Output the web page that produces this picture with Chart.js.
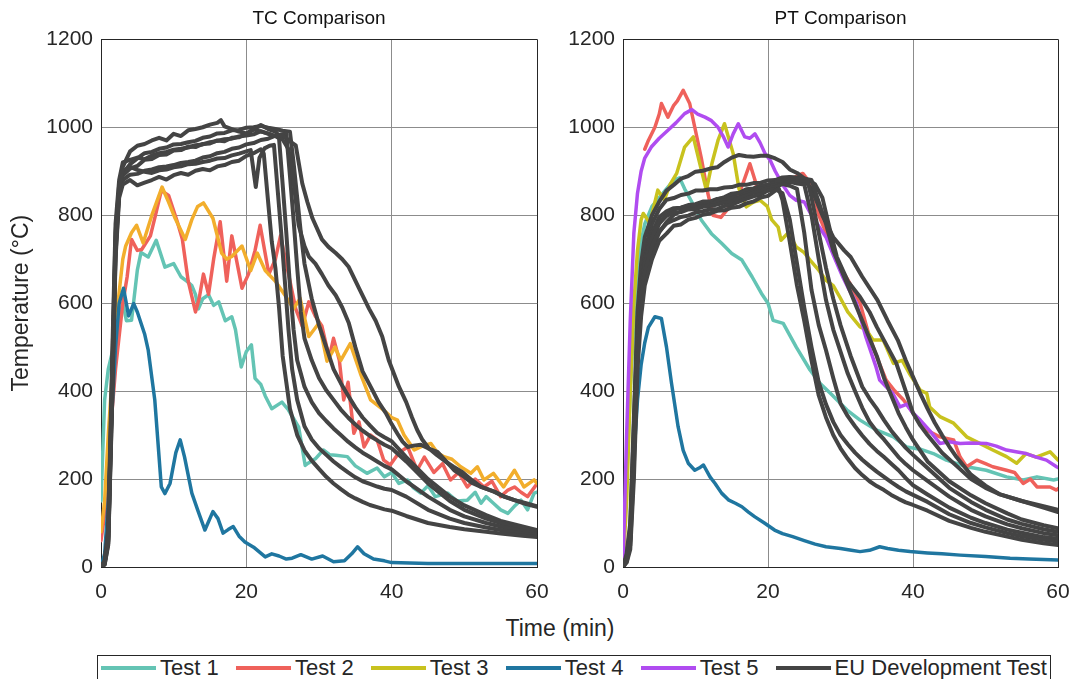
<!DOCTYPE html>
<html>
<head>
<meta charset="utf-8">
<script src="https://cdn.jsdelivr.net/npm/chart.js@4.4.0/dist/chart.umd.min.js"></script>
<style>
body{margin:0;background:#fff;width:1074px;height:679px;overflow:hidden;position:relative;font-family:"Liberation Sans",Arial,sans-serif;}
#c1{position:absolute;left:0;top:0;}
#c2{position:absolute;left:552px;top:0;}
#xlab{position:absolute;left:460px;width:200px;top:615px;text-align:center;font-size:23px;color:#262626;}
#legend{position:absolute;left:97px;top:655px;width:954px;height:26px;border:1.5px solid #262626;box-sizing:border-box;display:flex;justify-content:space-between;align-items:center;padding:0 3px;}
.item{display:flex;align-items:center;font-size:22px;color:#262626;white-space:nowrap;}
.swatch{display:inline-block;width:55px;height:4px;margin-right:4px;}
</style>
</head>
<body>
<canvas id="c1" width="552" height="610"></canvas>
<canvas id="c2" width="522" height="610"></canvas>
<div id="xlab">Time (min)</div>
<div id="legend"></div>
<script>
// time (min), temperature (C)
var tcTest1=[[0,150],[0.5,380],[1,450],[2,520],[3,600],[3.5,560],[4.2,561],[5,675],[5.5,715],[6.5,705],[7.6,743],[8.8,682],[10,690],[11,660],[11.8,650],[12.5,640],[13,620],[13.4,587],[14,610],[14.8,619],[15.5,595],[16.2,603],[17.1,560],[18,569],[18.5,540],[19.3,455],[20,490],[20.7,505],[21.2,429],[22,415],[22.6,389],[23.5,360],[24.9,375],[25.8,357],[27.2,318],[28.1,231],[28.5,236],[29.5,246],[30.6,266],[31.5,255],[32.3,254],[33.9,251],[35,230],[36.6,213],[38,225],[39,205],[40,215],[41,190],[42.2,198],[43,180],[44,168],[45,185],[46,160],[47.7,168],[49,150],[50.4,152],[51.5,170],[52.3,145],[53,160],[54,145],[55,130],[56,122],[57,140],[57.8,152],[58.7,130],[59.6,168],[60,170]];
var tcTest2=[[0,60],[0.5,120],[1,250],[2,450],[3,600],[3.6,660],[4.2,745],[5,720],[5.6,722],[6.8,753],[7.5,800],[8.3,856],[9.3,845],[10.5,785],[11.2,745],[12,650],[13,580],[13.5,610],[14.1,666],[14.8,620],[15.5,700],[16.4,785],[17.3,650],[18,753],[19.4,634],[20.3,666],[21.2,720],[21.9,777],[23.1,666],[24,700],[24.7,753],[25.6,682],[26.8,587],[27.7,548],[28.6,603],[29.5,570],[30.4,548],[31.4,476],[32,520],[32.8,470],[33.4,380],[34,420],[34.8,304],[35.5,330],[36.2,273],[37.1,300],[38,289],[38.9,243],[39.8,232],[41,260],[42.2,273],[43.5,220],[44.5,250],[45.8,215],[47,235],[48.1,198],[49.2,215],[50.4,182],[51.5,200],[52.7,182],[53.8,195],[55,160],[56,175],[56.9,182],[57.8,170],[58.7,160],[60,189]];
var tcTest3=[[0,80],[0.5,150],[1,300],[2,550],[3,700],[3.4,730],[4.2,760],[4.9,777],[5.8,737],[7,800],[8.4,864],[9.3,830],[10.2,793],[11.6,745],[12.5,790],[13.3,820],[14.1,828],[15.4,793],[16.6,714],[17.3,700],[18,706],[19.4,730],[20.6,674],[21.5,714],[22.6,674],[24,650],[25.6,611],[26.5,587],[27.4,611],[28.6,524],[30,555],[31.1,468],[32.2,500],[33,470],[34.3,508],[35.7,440],[37.1,380],[38.9,357],[40,340],[40.8,334],[41.7,300],[43.1,266],[44.2,275],[45.4,281],[46.3,260],[47.2,251],[48.3,245],[49.5,228],[50.9,213],[51.8,228],[52.7,198],[54,213],[55.4,182],[56.9,220],[58.2,182],[59.6,198],[60,190]];
var tcTest4=[[0,0],[0.5,30],[1,150],[1.5,350],[2,500],[2.5,600],[3.1,634],[3.8,571],[4.5,599],[5,580],[6,530],[6.5,493],[7.4,380],[8.3,182],[8.8,167],[9.5,190],[10.3,260],[10.9,289],[11.5,250],[12.5,168],[13.3,130],[14.3,84],[15.4,126],[16.1,110],[16.8,77],[17.5,85],[18.2,92],[19,70],[19.8,57],[21,45],[22.6,23],[23.5,30],[24.5,25],[25.5,18],[26.3,20],[27.5,28],[29,18],[30.5,25],[32,12],[33.5,14],[34.5,30],[35.3,46],[36.2,30],[37.5,18],[39,14],[40,10],[45,8],[50,8],[60,8]];

var tcEU1=[[0,0],[0.5,10],[1,60],[1.5,380],[2,720],[2.5,860],[3,910],[4,945],[5,958],[6,962],[7,970],[8,976],[9,970],[10,985],[11,980],[12,993],[13,996],[14,1000],[15,1006],[16,1010],[16.5,1016],[17,1002],[18,996],[19,990],[20,986],[21,995],[22,990],[23,986],[24,980],[25,982],[26,968],[26.8,959],[27.7,872],[28.4,830],[29.1,793],[30.4,745],[31.3,728],[32.3,714],[33.2,700],[34.1,682],[35.5,634],[36.9,587],[37.8,560],[38.7,524],[39.6,470],[40.3,440],[41,410],[42,375],[42.8,340],[43.5,312],[44.2,290],[45.1,270],[46.2,255],[47.4,240],[48.5,228],[49.8,215],[51,198],[52.3,182],[54.3,170],[55.5,160],[56.9,152],[58.5,145],[60,138]];
var tcEU2=[[0,0],[0.5,15],[1,80],[1.5,420],[2,760],[2.5,870],[3,890],[4,906],[5,912],[6,926],[7,928],[8,937],[9,938],[10,947],[11,948],[12,956],[13,955],[14,962],[15,963],[16,970],[17,968],[18,976],[19,977],[20,986],[21,995],[22,1005],[23,996],[24,990],[25,972],[25.8,950],[26.3,905],[27.2,777],[28,730],[28.6,706],[29.5,690],[30.4,666],[31.3,640],[32.3,618],[33.2,590],[34.1,555],[35,500],[36,445],[37.3,404],[38.2,375],[39.2,350],[40,325],[40.8,303],[41.5,285],[42.2,273],[43,276],[44,278],[45,270],[46.3,262],[47.5,240],[48.6,220],[50,205],[51,192],[52.3,182],[54,172],[55.5,160],[56.9,152],[58.5,143],[60,137]];
var tcEU3=[[0,0],[0.5,5],[1,50],[1.5,350],[2,700],[2.5,840],[3,870],[4,880],[5,868],[6,874],[7,880],[8,887],[9,881],[10,891],[11,896],[12,892],[13,901],[14,905],[15,902],[16,911],[17,914],[18,921],[19,924],[20,935],[21,941],[22,950],[22.4,940],[23,830],[23.5,740],[24,680],[24.5,590],[25,480],[25.5,420],[26,360],[27,300],[28,265],[29,242],[30,223],[31,205],[32,190],[33,177],[34,165],[35,156],[36,148],[37,141],[38,136],[39,131],[40,128],[42,116],[45,100],[48,91],[50,86],[53,80],[55,76],[58,71],[60,68]];
var tcEU4=[[0,0],[0.5,8],[1,70],[1.5,400],[2,740],[2.5,860],[3,900],[4,910],[5,903],[6,899],[7,896],[8,902],[9,904],[10,909],[11,911],[12,916],[13,917],[14,921],[15,924],[16,929],[17,930],[18,936],[19,940],[20,945],[20.6,948],[21.3,864],[21.8,930],[22.5,952],[23.2,958],[23.8,960],[24.3,860],[24.8,760],[25.3,650],[25.8,540],[26.3,450],[27,380],[28,320],[29,290],[30,270],[31,255],[32,240],[33,227],[34,215],[35,204],[36,195],[37,189],[38,183],[39,178],[40,175],[42,160],[45,130],[48,110],[50,100],[53,90],[55,84],[58,76],[60,72]];
var tcEU5=[[0,0],[0.5,12],[1,90],[1.5,450],[2,780],[2.5,880],[3,920],[4,926],[5,931],[6,927],[7,936],[8,941],[9,944],[10,949],[11,951],[12,954],[13,959],[14,961],[15,966],[16,969],[17,973],[18,974],[19,979],[20,981],[21,984],[22,991],[23,985],[24,980],[24.5,975],[25,870],[25.5,760],[26,640],[26.5,540],[27,470],[28,410],[29,375],[30,350],[31,332],[32,315],[33,300],[34,285],[35,272],[36,260],[37,250],[38,240],[39,230],[40,222],[42,195],[45,160],[48,130],[50,115],[53,100],[55,92],[58,82],[60,76]];
var tcEU6=[[0,0],[0.5,6],[1,55],[1.5,360],[2,710],[2.5,850],[3,880],[4,892],[5,894],[6,901],[7,904],[8,909],[9,911],[10,914],[11,919],[12,921],[13,924],[14,931],[15,934],[16,941],[17,944],[18,951],[19,954],[20,961],[21,964],[22,971],[23,974],[24,981],[25,984],[25.5,985],[26,890],[26.5,790],[27,680],[27.5,580],[28,520],[29,470],[30,430],[31,402],[32,380],[33,358],[34,340],[35,324],[36,310],[37,298],[38,288],[39,278],[40,270],[42,240],[45,190],[48,150],[50,130],[53,110],[55,100],[58,87],[60,80]];
var tcEU7=[[0,0],[0.5,10],[1,65],[1.5,390],[2,730],[2.5,855],[3,895],[4,916],[5,929],[6,941],[7,944],[8,951],[9,954],[10,961],[11,962],[12,966],[13,969],[14,976],[15,979],[16,986],[17,987],[18,993],[19,994],[20,999],[21,1000],[22,1003],[23,999],[24,996],[25,992],[26,990],[26.5,920],[27,840],[27.5,760],[28,690],[29,610],[30,550],[31,500],[32,450],[33,418],[34,390],[35,363],[36,340],[37,322],[38,305],[39,295],[40,286],[42,250],[45,200],[48,160],[50,140],[53,118],[55,105],[58,92],[60,84]];

var ptTest1=[[0,60],[0.5,200],[1,400],[1.5,560],[2,660],[2.5,740],[3,780],[4,820],[5,840],[6,860],[7,880],[7.8,885],[8.5,860],[9.5,830],[10.8,789],[12.2,758],[13.6,736],[15,713],[16.4,698],[17.8,660],[19.1,622],[20,600],[20.7,561],[22.1,554],[23.9,500],[25.8,448],[27.2,417],[28.6,395],[30.9,357],[32.7,334],[35,311],[37.3,296],[39.1,273],[41,268],[42.8,258],[44.6,243],[47.4,228],[50.1,220],[52.9,205],[55.2,198],[57.1,205],[59.4,198],[60,200]];
var ptTest2=[[3,950],[3.5,970],[4.4,1000],[5,1030],[5.3,1054],[6.2,1023],[7,1050],[7.5,1060],[8.3,1084],[9.2,1054],[9.9,1000],[10.8,930],[11.7,850],[12.4,800],[13.5,795],[14.5,815],[15.5,830],[16.5,870],[17.5,917],[18.2,880],[18.7,850],[19.5,860],[20.5,870],[21.5,880],[22.5,875],[23.5,885],[24.8,895],[25.5,880],[26.2,857],[27,800],[28,760],[29.4,698],[31.3,645],[32.7,600],[34,523],[35.2,470],[36.3,425],[37.5,400],[38.7,380],[40,350],[41,327],[41.9,311],[43.7,296],[45.6,289],[46.5,250],[47.4,228],[48.8,243],[50,235],[51,228],[52.9,220],[54,215],[55.2,190],[56.2,200],[57.1,182],[58.9,182],[59.8,175],[60,178]];
var ptTest3=[[0,0],[0.5,150],[1,400],[1.5,600],[2,720],[2.5,790],[2.8,804],[3.7,782],[4.8,857],[5.7,835],[6.5,870],[7.4,895],[8.5,955],[9.7,978],[10.6,917],[11.5,857],[12.3,920],[13.1,970],[14,1008],[15.2,940],[16,860],[17,819],[18,830],[18.9,834],[19.9,820],[20.5,790],[21.4,773],[21.8,743],[22.8,760],[23.9,728],[25,715],[25.8,698],[27,675],[28,652],[29,640],[29.9,614],[31,580],[32.7,546],[33.5,540],[34.5,516],[35.9,516],[37.3,463],[38.5,470],[39.5,440],[41,402],[41.9,395],[42.3,364],[43.7,342],[45.6,327],[47.4,296],[49.2,281],[51,266],[52.9,251],[54.3,236],[55.6,258],[57,250],[58.9,262],[60,243]];
var ptTest4=[[0,0],[0.5,20],[1,80],[1.5,250],[2,380],[2.5,460],[3,510],[3.5,545],[4.4,569],[5.3,565],[6,500],[6.7,417],[7.6,319],[8.3,265],[9,236],[9.9,220],[10.5,225],[11.1,232],[12,205],[12.7,190],[13.6,168],[14.6,152],[15.5,145],[16.4,137],[17.3,125],[18.2,114],[19.5,100],[20.9,84],[22,76],[23.4,69],[25,60],[26.5,52],[28,46],[30,42],[31.5,38],[32.7,35],[34,38],[35.4,46],[36.5,42],[38,38],[39.6,35],[42,32],[44,30],[46.5,27],[50,24],[53.4,20],[56,18],[60,16]];
var ptTest5=[[0,0],[0.5,300],[1,560],[1.5,760],[2,850],[2.5,900],[3,930],[3.9,955],[5,975],[6.2,993],[7.3,1010],[8.5,1031],[9.5,1040],[10.3,1030],[11.3,1023],[12.2,1015],[13.1,1000],[13.8,980],[14.5,955],[15.2,985],[15.9,1008],[16.8,978],[17.5,975],[18.2,985],[18.9,965],[19.6,940],[20.3,925],[21,900],[22,870],[23,845],[23.9,834],[25,830],[26,800],[27,775],[28,750],[29,710],[30.3,660],[31.2,630],[32.2,600],[33.5,523],[34.9,455],[35.4,425],[36.3,410],[37.2,395],[38.2,364],[39.1,370],[40,350],[41,334],[42.3,310],[43.7,281],[45,285],[46.5,281],[48,282],[50.1,281],[51.5,275],[52.9,266],[54.2,262],[55.6,258],[57,250],[58.4,243],[59.8,228],[60,226]];

var ptEU1=[[0,0],[0.5,10],[1,40],[1.5,200],[2,450],[2.5,570],[3,640],[4,700],[5,742],[6,758],[7,776],[8,779],[9,790],[10,794],[11,801],[12,804],[13,810],[14,811],[15,817],[16,819],[17,827],[18,831],[19,840],[20,844],[21,856],[21.5,860],[22,834],[23,740],[24,640],[25,560],[26,470],[27,390],[28,340],[29,300],[30,270],[31,246],[32,225],[33,209],[34,195],[35,184],[36,175],[37,164],[38,155],[39,147],[40,141],[42,128],[45,105],[48,89],[50,80],[53,69],[55,62],[58,54],[60,50]];
var ptEU2=[[0,0],[0.5,15],[1,60],[1.5,260],[2,500],[2.5,610],[3,670],[4,730],[5,764],[6,781],[7,789],[8,796],[9,799],[10,806],[11,809],[12,813],[13,814],[14,821],[15,824],[16,831],[17,837],[18,843],[19,847],[20,856],[21,859],[22,850],[23,790],[24,690],[25,590],[26,500],[27,420],[28,370],[29,330],[30,300],[31,279],[32,260],[33,244],[34,230],[35,217],[36,205],[37,193],[38,182],[39,172],[40,164],[42,148],[45,120],[48,100],[50,90],[53,77],[55,70],[58,62],[60,58]];
var ptEU3=[[0,0],[0.5,20],[1,70],[1.5,280],[2,520],[2.5,630],[3,690],[4,750],[5,786],[6,799],[7,806],[8,807],[9,813],[10,814],[11,819],[12,821],[13,824],[14,829],[15,831],[16,839],[17,844],[18,851],[19,854],[20,861],[21,864],[22,871],[23,867],[24,860],[25,760],[26,630],[27,550],[28,493],[29,430],[30,372],[31,343],[32,320],[33,299],[34,280],[35,264],[36,250],[37,235],[38,220],[39,202],[40,186],[42,165],[45,135],[48,112],[50,100],[53,85],[55,78],[58,68],[60,64]];
var ptEU4=[[0,0],[0.5,12],[1,50],[1.5,230],[2,480],[2.5,600],[3,660],[4,720],[5,761],[6,784],[7,801],[8,809],[9,816],[10,817],[11,821],[12,824],[13,831],[14,834],[15,839],[16,841],[17,849],[18,854],[19,861],[20,864],[21,869],[22,871],[23,876],[24,872],[25,870],[26,800],[27,700],[28,607],[29,540],[30,490],[31,440],[32,400],[33,362],[34,330],[35,308],[36,290],[37,270],[38,250],[39,234],[40,220],[42,196],[45,160],[48,130],[50,115],[53,97],[55,88],[58,77],[60,72]];
var ptEU5=[[0,0],[0.5,18],[1,65],[1.5,270],[2,510],[2.5,620],[3,680],[4,740],[5,781],[6,799],[7,813],[8,817],[9,823],[10,825],[11,831],[12,831],[13,837],[14,839],[15,846],[16,849],[17,856],[18,859],[19,866],[20,869],[21,873],[22,874],[23,881],[24,877],[25,876],[25.5,875],[26,840],[27,760],[28,680],[29,610],[30,550],[31.4,480],[33,410],[34,383],[35,360],[36,334],[37,310],[38,290],[39,271],[40,255],[42,225],[45,180],[48,148],[50,130],[53,108],[55,98],[58,86],[60,80]];
var ptEU6=[[0,0],[0.5,25],[1,90],[1.5,320],[2,560],[2.5,650],[3,700],[4,760],[5,796],[6,809],[7,816],[8,817],[9,821],[10,821],[11,827],[12,829],[13,836],[14,841],[15,849],[16,851],[17,859],[18,861],[19,867],[20,869],[21,876],[22,879],[23,886],[24,884],[25,883],[26,880],[27,830],[28,780],[29,720],[30,680],[31,640],[32,600],[33,560],[34,520],[35,480],[36,430],[37,390],[38,350],[39,318],[40,289],[42,240],[45,195],[48,163],[50,145],[53,122],[55,108],[58,95],[60,88]];
var ptEU7=[[0,0],[0.5,30],[1,100],[1.5,340],[2,580],[2.5,690],[3,750],[4,800],[5,831],[6,856],[7,869],[8,883],[9,889],[10,899],[11,901],[12,906],[13,909],[14,921],[15,931],[16,937],[17,934],[18,933],[19,935],[20,935],[21,929],[22,921],[23,904],[24,896],[25,884],[26,876],[26.5,870],[27.5,840],[28.5,770],[29.5,705],[31,650],[32.7,614],[34,580],[35,546],[36.5,500],[37.7,463],[39,400],[40,350],[41,322],[42,300],[44,260],[46,230],[48,200],[50,180],[52,165],[55,150],[58,135],[60,125]];
var ptEU8=[[0,0],[0.5,20],[1,75],[1.5,290],[2,530],[2.5,650],[3,720],[4,780],[5,814],[6,835],[7,839],[8,846],[9,849],[10,856],[11,856],[12,859],[13,859],[14,863],[15,864],[16,869],[17,869],[18,873],[19,874],[20,879],[21,880],[22,886],[23,887],[24,886],[25,880],[26,860],[27.6,796],[29,750],[30.5,720],[31.4,705],[33,660],[35.1,607],[36.5,560],[37.9,516],[39,470],[40.2,425],[41,395],[42,360],[43,328],[44,300],[45,274],[46,250],[48,210],[50,185],[52,165],[55,150],[58,138],[60,130]];

var xTicks=[0,20,40,60];
var yTicks=[0,200,400,600,800,1000,1200];
var legendLabels=['Test 1','Test 2','Test 3','Test 4','Test 5','EU Development Test'];
var legendColors=['#64c4b4','#ef615b','#c8c21e','#1f76a0','#b04cf0','#444444'];

var fuente='"Liberation Sans", Arial, sans-serif';
var grisEU='#444444';
var naranja='#f2ae2c';

function puntos(arr){
	return arr.map(function(p){return {x:p[0],y:p[1]};});
}

function linea(label,arr,color,ancho){
	return {
		label:label,
		data:puntos(arr),
		borderColor:color,
		backgroundColor:color,
		borderWidth:ancho,
		pointRadius:0,
		fill:false,
		tension:0,
		borderJoinStyle:'round',
		borderCapStyle:'round'
	};
}

function opciones(titulo,yTitulo,yAncho,derecha){
	return {
		responsive:false,
		animation:false,
		layout:{padding:{left:0,right:derecha,top:0,bottom:0}},
		plugins:{
			legend:{display:false},
			tooltip:{enabled:false},
			title:{
				display:true,
				text:titulo,
				fullSize:false,
				color:'#111',
				font:{family:fuente,size:19,weight:'normal'},
				padding:{top:7,bottom:9.5}
			}
		},
		scales:{
			x:{
				type:'linear',
				min:0,max:60,
				afterBuildTicks:function(s){s.ticks=xTicks.map(function(v){return {value:v};});},
				ticks:{color:'#262626',font:{family:fuente,size:21},padding:13,maxRotation:0,callback:function(v){return String(v);}},
				grid:{
					color:function(c){return (c.tick && c.tick.value===60)?'#262626':'#8c8c8c';},
					lineWidth:1,
					drawTicks:false
				},
				border:{display:true,color:'#262626',width:1},
				afterFit:function(s){s.height=43;s.paddingLeft=0;s.paddingRight=0;}
			},
			y:{
				min:0,max:1200,
				afterBuildTicks:function(s){s.ticks=yTicks.map(function(v){return {value:v};});},
				ticks:{color:'#262626',font:{family:fuente,size:21},padding:8,callback:function(v){return String(v);}},
				grid:{
					color:function(c){return (c.tick && c.tick.value===1200)?'#262626':'#8c8c8c';},
					lineWidth:1,
					drawTicks:false
				},
				border:{display:true,color:'#262626',width:1},
				title:{
					display:yTitulo!=='',
					text:yTitulo,
					color:'#262626',
					font:{family:fuente,size:23},
					padding:{top:8,bottom:0}
				},
				afterFit:function(s){s.width=yAncho;s.paddingTop=0;s.paddingBottom=0;}
			}
		}
	};
}

var tcSets=[
	linea('EU Development Test',tcEU1,grisEU,4),
	linea('EU Development Test',tcEU2,grisEU,4),
	linea('EU Development Test',tcEU3,grisEU,4),
	linea('EU Development Test',tcEU4,grisEU,4),
	linea('EU Development Test',tcEU5,grisEU,4),
	linea('EU Development Test',tcEU6,grisEU,4),
	linea('EU Development Test',tcEU7,grisEU,4),
	linea('Test 4',tcTest4,legendColors[3],3.5),
	linea('Test 3',tcTest3,naranja,3.5),
	linea('Test 2',tcTest2,legendColors[1],3.5),
	linea('Test 1',tcTest1,legendColors[0],3.5)
];

var ptSets=[
	linea('EU Development Test',ptEU1,grisEU,4),
	linea('EU Development Test',ptEU2,grisEU,4),
	linea('EU Development Test',ptEU3,grisEU,4),
	linea('EU Development Test',ptEU4,grisEU,4),
	linea('EU Development Test',ptEU5,grisEU,4),
	linea('EU Development Test',ptEU6,grisEU,4),
	linea('EU Development Test',ptEU7,grisEU,4),
	linea('EU Development Test',ptEU8,grisEU,4),
	linea('Test 5',ptTest5,legendColors[4],3.5),
	linea('Test 4',ptTest4,legendColors[3],3.5),
	linea('Test 3',ptTest3,legendColors[2],3.5),
	linea('Test 2',ptTest2,legendColors[1],3.5),
	linea('Test 1',ptTest1,legendColors[0],3.5)
];

var ctx=document.getElementById('c1').getContext('2d');
var chartTC=new Chart(ctx,{type:'line',data:{datasets:tcSets},options:opciones('TC Comparison','Temperature (°C)',101,15)});

var ctx2=document.getElementById('c2').getContext('2d');
var chartPT=new Chart(ctx2,{type:'line',data:{datasets:ptSets},options:opciones('PT Comparison','',71,16)});

var caja=document.getElementById('legend');
for(var i=0;i<legendLabels.length;i++){
	var item=document.createElement('div');
	item.className='item';
	var sw=document.createElement('span');
	sw.className='swatch';
	sw.style.background=legendColors[i];
	item.appendChild(sw);
	item.appendChild(document.createTextNode(legendLabels[i]));
	caja.appendChild(item);
}
</script>
</body>
</html>
